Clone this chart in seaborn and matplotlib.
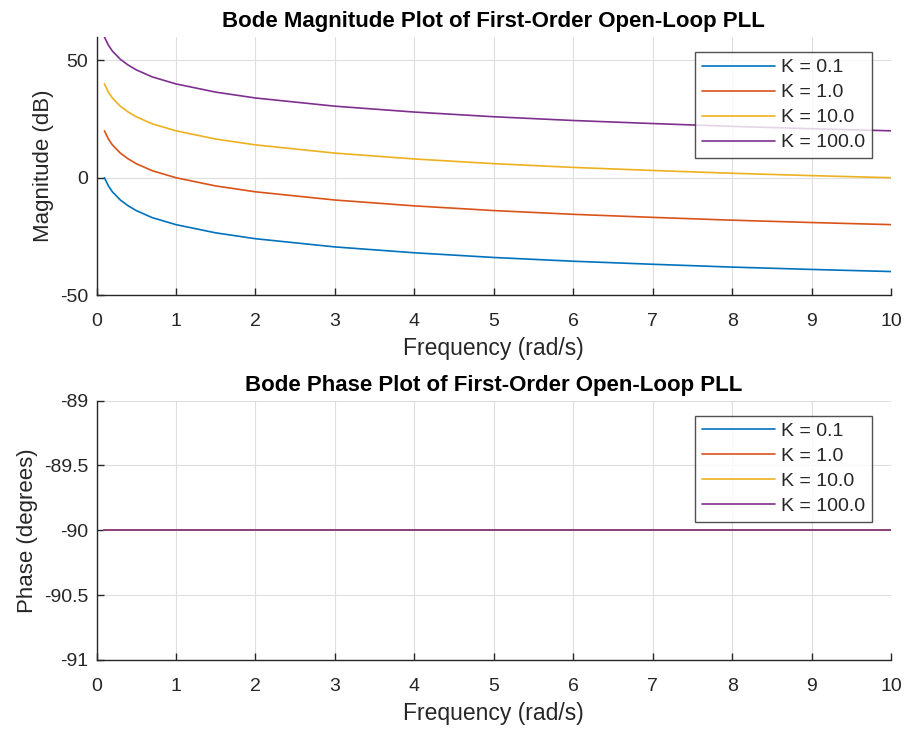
import matplotlib
matplotlib.use("Agg")
import matplotlib.pyplot as plt
import seaborn as sns
import pandas as pd

sns.set_theme(style="white")
plt.rcParams['font.family'] = ['Liberation Sans', 'DejaVu Sans']
plt.rcParams['axes.unicode_minus'] = False

# Data
freq = [0.1, 0.15, 0.2, 0.3, 0.4, 0.5, 0.7, 1.0, 1.5, 2.0, 3.0, 4.0, 5.0, 6.0, 7.0, 8.0, 9.0, 10.0]
mag_k01 = [0.0, -3.5, -6.0, -9.5, -12.0, -14.0, -17.0, -20.0, -23.5, -26.0, -29.5, -32.0, -34.0, -35.6, -36.9, -38.1, -39.1, -40.0]
mag_k1 = [20.0, 16.5, 14.0, 10.5, 8.0, 6.0, 3.0, 0.0, -3.5, -6.0, -9.5, -12.0, -14.0, -15.6, -16.9, -18.1, -19.1, -20.0]
mag_k10 = [40.0, 36.5, 34.0, 30.5, 28.0, 26.0, 23.0, 20.0, 16.5, 14.0, 10.5, 8.0, 6.0, 4.4, 3.1, 1.9, 0.9, 0.0]
mag_k100 = [60.0, 56.5, 54.0, 50.5, 48.0, 46.0, 43.0, 40.0, 36.5, 34.0, 30.5, 28.0, 26.0, 24.4, 23.1, 21.9, 20.9, 20.0]
phase_all = [-90.0] * len(freq)
labels = ["K = 0.1", "K = 1.0", "K = 10.0", "K = 100.0"]
colors = ["#0072BD", "#D95319", "#EDB120", "#7E2F8E"]

mag_series = [mag_k01, mag_k1, mag_k10, mag_k100]
rows = []
for lab, m in zip(labels, mag_series):
    for f, v, p in zip(freq, m, phase_all):
        rows.append({"freq": f, "mag": v, "phase": p, "K": lab})
df = pd.DataFrame(rows)

fig = plt.figure(figsize=(9.06, 7.31), dpi=100)
W, H = 906, 731
ax1 = fig.add_axes([96.5 / W, 1 - 295 / H, (891 - 96.5) / W, (295 - 37) / H])
ax2 = fig.add_axes([96.5 / W, 1 - 660 / H, (891 - 96.5) / W, (660 - 400.5) / H])

palette = dict(zip(labels, colors))
sns.lineplot(data=df, x="freq", y="mag", hue="K", palette=palette, ax=ax1, linewidth=1.2)
sns.lineplot(data=df, x="freq", y="phase", hue="K", palette=palette, ax=ax2, linewidth=1.2)

txt = "#262626"
for ax, title, ylabel in [(ax1, "Bode Magnitude Plot of First-Order Open-Loop PLL", "Magnitude (dB)"),
                          (ax2, "Bode Phase Plot of First-Order Open-Loop PLL", "Phase (degrees)")]:
    ax.set_xlim(0, 10)
    ax.set_xticks(range(0, 11))
    ax.grid(True, color="#dedede", linewidth=0.8)
    ax.set_axisbelow(True)
    for s in ["top", "right"]:
        ax.spines[s].set_visible(False)
    for s in ["left", "bottom"]:
        ax.spines[s].set_color(txt)
        ax.spines[s].set_linewidth(1.0)
    ax.tick_params(axis="x", direction="in", length=5, width=1, colors=txt, labelsize=14, pad=13, bottom=True)
    ax.tick_params(axis="y", direction="in", length=5, width=1, colors=txt, labelsize=14, pad=6, left=True)
    ax.set_title(title, fontsize=16, fontweight="bold", color="black", pad=7)
    ax.set_xlabel("Frequency (rad/s)", fontsize=16.5, color=txt, labelpad=5)
    ax.set_ylabel(ylabel, fontsize=16, color=txt, labelpad=4)
    leg = ax.legend(loc="upper right", bbox_to_anchor=(0.976, 0.942), fontsize=14, frameon=True,
                    fancybox=False, edgecolor="#262626", handlelength=3.75, handletextpad=0.3,
                    labelspacing=0.38, borderpad=0.35, borderaxespad=0.0)
    leg.get_frame().set_linewidth(1.0)
    for t in leg.get_texts():
        t.set_color(txt)

ax1.set_ylim(-50, 60)
ax1.set_yticks([-50, 0, 50])
ax2.set_ylim(-91, -89)
ax2.set_yticks([-91, -90.5, -90, -89.5, -89])
ax2.set_yticklabels(["-91", "-90.5", "-90", "-89.5", "-89"])

fig.savefig("out.png", dpi=100)
